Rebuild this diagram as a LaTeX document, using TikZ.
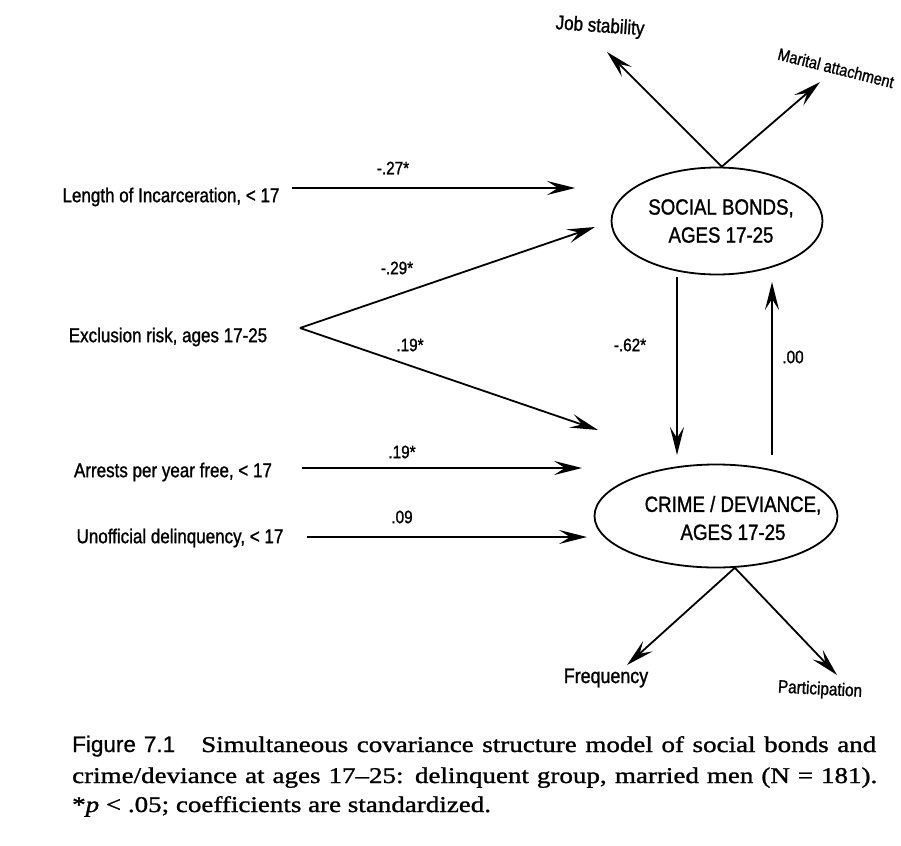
\documentclass[tikz,border=0pt]{standalone}
\usepackage{fontspec}
\setmainfont{Liberation Serif}
\newfontfamily\labfont[FakeStretch=0.85,FakeBold=1.2]{Liberation Sans}
\newfontfamily\figfont[FakeBold=0.6]{Liberation Sans}
\newfontfamily\capfont[FakeStretch=1.2,FakeBold=1.2]{Liberation Serif}
\usetikzlibrary{arrows.meta,shapes.geometric}
\begin{document}
\begin{tikzpicture}[x=1pt,y=-1pt,
  lab/.style={font=\labfont\fontsize{20}{24}\selectfont, inner sep=0pt},
  coef/.style={font=\labfont\fontsize{18}{22}\selectfont, inner sep=0pt},
  bigtxt/.style={font=\labfont\fontsize{22}{28}\selectfont, inner sep=0pt, align=center},
  arr/.style={line width=1.8pt, -{Stealth[length=28pt,width=14pt,inset=11pt]}},
  latent/.style={draw, ellipse, line width=1.8pt, inner sep=0pt},
  captxt/.style={anchor=base west, inner sep=0pt, font=\capfont\fontsize{22.5}{28}\selectfont}]
\useasboundingbox (0,0) rectangle (901,845);

% exogenous labels
\node[lab] (len)  at (171,197) {Length of Incarceration, < 17};
\node[lab] (excl) at (168,337) {Exclusion risk, ages 17-25};
\node[lab] (arrests) at (173,472) {Arrests per year free, < 17};
\node[lab] (unof) at (180,538) {Unofficial delinquency, < 17};

% latent constructs
\node[latent, minimum width=211pt, minimum height=107pt] (social) at (717,221) {};
\node[bigtxt] (socialtxt) at (721,221) {SOCIAL BONDS,\\AGES 17-25};
\node[latent, minimum width=243pt, minimum height=103pt] (crime) at (716,516) {};
\node[bigtxt] (crimetxt) at (733,518) {CRIME / DEVIANCE,\\AGES 17-25};

% indicators
\node[lab, rotate=-4] (job) at (600,27) {Job stability};
\node[lab, font=\labfont\fontsize{17}{20}\selectfont, rotate=-14] (mar) at (836,68) {Marital attachment};
\node[lab, font=\labfont\fontsize{21}{24}\selectfont] (freq) at (606,678) {Frequency};
\node[lab, font=\labfont\fontsize{18}{22}\selectfont, rotate=-3] (part) at (820,690) {Participation};

% connector end points
\coordinate (lenS) at (292,188);  \coordinate (lenE) at (575,188);
\coordinate (v)    at (300,328);  \coordinate (exS)  at (595,227);  \coordinate (exC) at (598,430);
\coordinate (arS)  at (302,468);  \coordinate (arE)  at (582,468);
\coordinate (unS)  at (307,537);  \coordinate (unE)  at (587,537);
\coordinate (sdS)  at (677,277);  \coordinate (sdE)  at (677,455);
\coordinate (cuS)  at (772,455);  \coordinate (cuE)  at (772,282);
\coordinate (jobT) at (607,52);   \coordinate (marT) at (820,82);
\coordinate (freqT) at (627,665); \coordinate (partT) at (837,675);

% paths
\draw[arr] (lenS) -- (lenE);
\draw[arr] (v) -- (exS);
\draw[arr] (v) -- (exC);
\draw[arr] (arS) -- (arE);
\draw[arr] (unS) -- (unE);
\draw[arr] (sdS) -- (sdE);
\draw[arr] (cuS) -- (cuE);
\draw[arr] (social.85) -- (jobT);
\draw[arr] (social.85) -- (marT);
\draw[arr] (crime.-70) -- (freqT);
\draw[arr] (crime.-70) -- (partT);

% coefficients
\node[coef] (c1) at (393,168) {-.27*};
\node[coef] (c2) at (397,268) {-.29*};
\node[coef] (c3) at (410,345) {.19*};
\node[coef] (c4) at (402,452) {.19*};
\node[coef] (c5) at (402,517) {.09};
\node[coef] (c6) at (630,345) {-.62*};
\node[coef] (c7) at (793,357) {.00};

% caption
\node[captxt] (cap1) at (72,752) {\makebox[804pt][s]{{\figfont Figure 7.1}\hspace{26pt}Simultaneous covariance structure model of social bonds and}};
\node[captxt] (cap2) at (72,783) {\makebox[805pt][s]{crime/deviance at ages 17–25: delinquent group, married men (N = 181).}};
\node[captxt] (cap3) at (72,812) {*\textit{p} < .05; coefficients are standardized.};
\end{tikzpicture}
\end{document}
